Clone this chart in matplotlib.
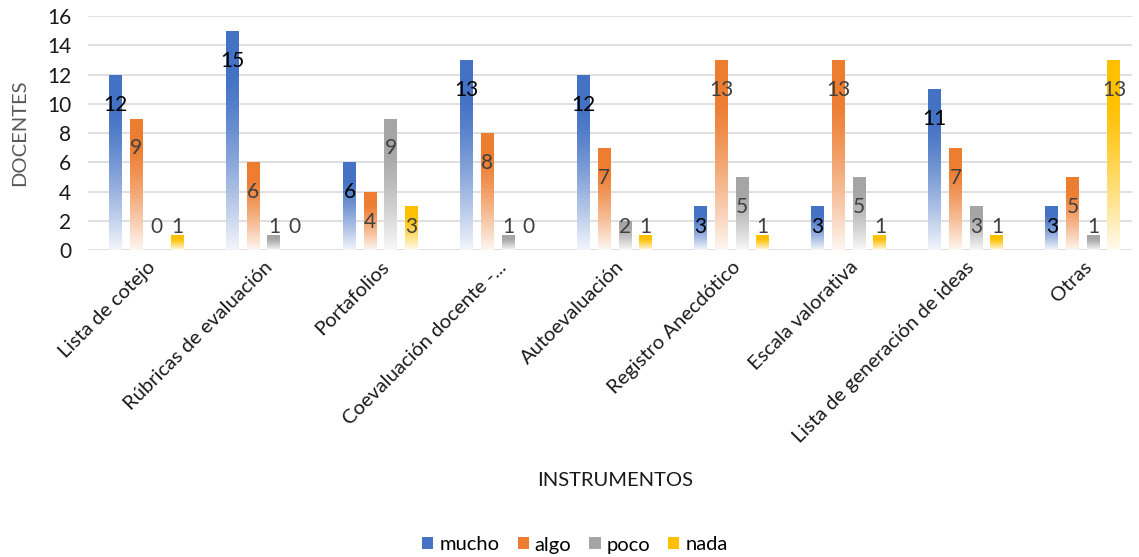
import numpy as np
import matplotlib
matplotlib.use('agg')
import matplotlib.pyplot as plt
from matplotlib.colors import to_rgb
from matplotlib.patches import Patch

plt.rcParams['font.family'] = ['Lato', 'DejaVu Sans']

#---------------- data --------------------
categories = ['Lista de cotejo', 'Rúbricas de evaluación', 'Portafolios',
              'Coevaluación docente -...', 'Autoevaluación', 'Registro Anecdótico',
              'Escala valorativa', 'Lista de generación de ideas', 'Otras']
mucho = [12, 15, 6, 13, 12, 3, 3, 11, 3]
algo = [9, 6, 4, 8, 7, 13, 13, 7, 5]
poco = [0, 1, 9, 1, 2, 5, 5, 3, 1]
nada = [1, 0, 3, 0, 1, 1, 1, 1, 13]

series = [('mucho', mucho, '#4472C4', '#000000'),
          ('algo', algo, '#ED7D31', '#404040'),
          ('poco', poco, '#A5A5A5', '#404040'),
          ('nada', nada, '#FFC000', '#404040')]

#-------------- plotting
fig = plt.figure(figsize=(11.39, 5.57), dpi=100)
ax = fig.add_axes([88/1139, 0.551, (1132-88)/1139, 0.42])

x = np.arange(len(categories))
w = 0.111
step = 0.177


def gradient_bar(ax, patch, color):
    # solid at the top, fading to white at the bottom
    c = np.array(to_rgb(color))
    t = np.linspace(0, 1, 100)[:, None]          # 0 top, 1 bottom
    m = 0.93 * np.clip((t - 0.2) / 0.8, 0, 1) ** 1.3
    img = c[None, :] * (1 - m) + np.ones(3)[None, :] * m
    img = np.repeat(img[:, None, :], 2, axis=1)
    x0, y0 = patch.get_x(), patch.get_y()
    x1, y1 = x0 + patch.get_width(), y0 + patch.get_height()
    if y1 <= y0:
        return
    im = ax.imshow(img, extent=(x0, x1, y0, y1), aspect='auto', zorder=2,
                   origin='upper', interpolation='bilinear')
    im.set_clip_path(patch)


for i, (name, vals, col, lcol) in enumerate(series):
    pos = x + (i - 1.5) * step
    bars = ax.bar(pos, vals, width=w, color='none', edgecolor='none', zorder=2)
    for b in bars:
        gradient_bar(ax, b, col)
    for px, v in zip(pos, vals):
        ax.text(px, max(v - 2.05, 1.57), str(v), ha='center', va='center',
                fontsize=15, color=lcol, zorder=4)

ax.set_xlim(-0.5, 8.42)
ax.set_ylim(0, 16)
ax.set_yticks(np.arange(0, 17, 2))
ax.yaxis.grid(True, color='#D9D9D9', linewidth=1.2)
ax.set_axisbelow(True)
for s in ax.spines.values():
    s.set_visible(False)
ax.tick_params(length=0, labelsize=15, colors='#1a1a1a')
ax.tick_params(axis='y', pad=12)
ax.set_xticks(x)
ax.set_xticklabels(categories, rotation=45, ha='right', rotation_mode='anchor',
                   fontsize=14.5)
ax.tick_params(axis='x', pad=6)

ax.set_ylabel('DOCENTES', fontsize=14.5, color='#595959', labelpad=14)
fig.text(615/1139, 1 - 480/557, 'INSTRUMENTOS', ha='center', va='center',
         fontsize=14.5, color='#1a1a1a')

handles = [Patch(facecolor=c, edgecolor='none', label=n) for n, _, c, _ in series]
fig.legend(handles=handles, loc='center', bbox_to_anchor=(575/1139, 1 - 545/557),
           ncol=4, frameon=False, fontsize=14.5, handlelength=0.55, handleheight=0.55,
           handletextpad=0.3, columnspacing=0.9)

plt.savefig('out.png', dpi=100)
plt.close('all')
